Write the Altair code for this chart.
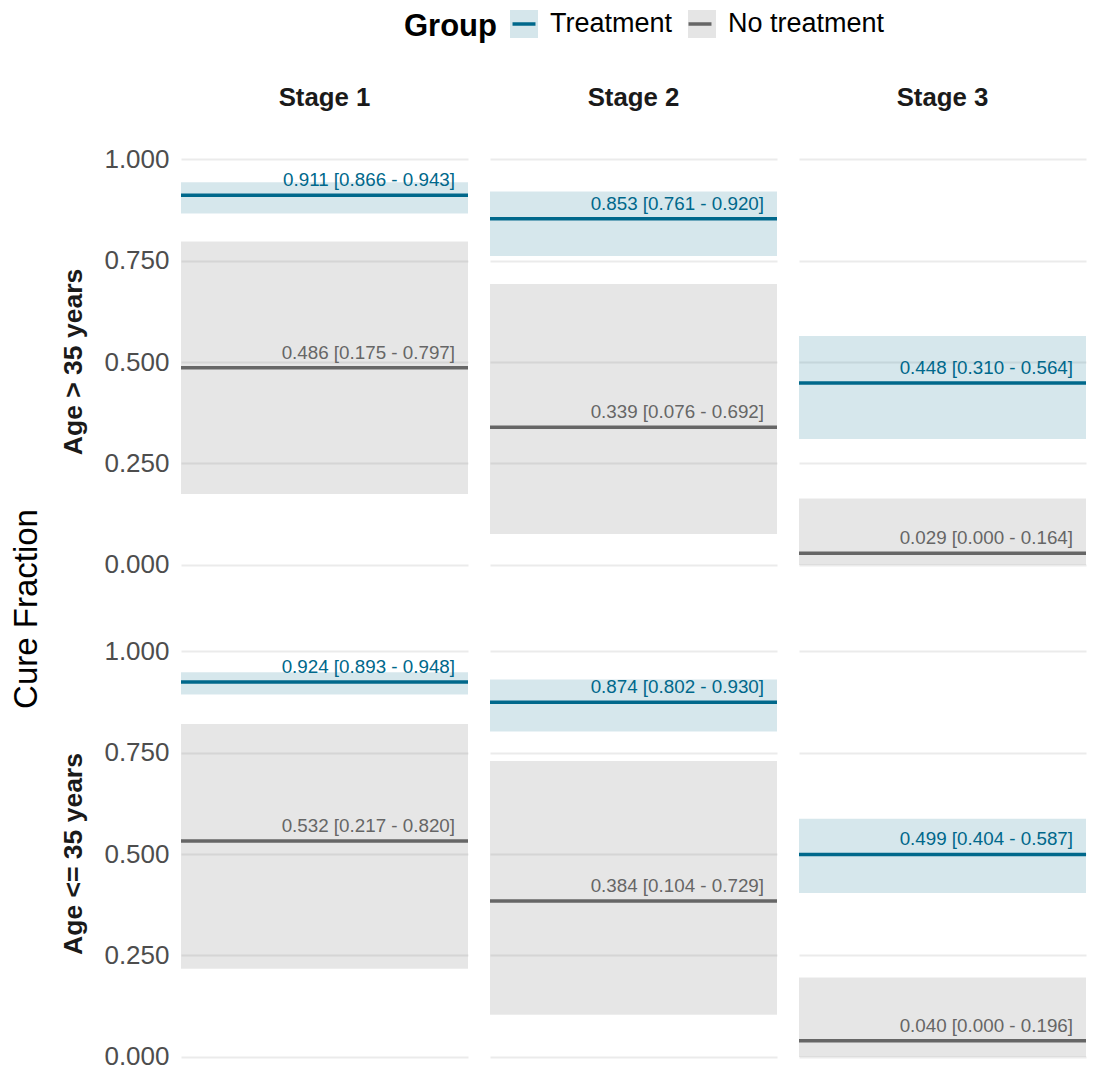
import altair as alt
import pandas as pd

stages = ["Stage 1", "Stage 2", "Stage 3"]
ages = ["Age > 35 years", "Age <= 35 years"]
groups = ["Treatment", "No treatment"]

old_treat_est = [0.911, 0.853, 0.448]
old_treat_lo = [0.866, 0.761, 0.310]
old_treat_hi = [0.943, 0.920, 0.564]
old_none_est = [0.486, 0.339, 0.029]
old_none_lo = [0.175, 0.076, 0.000]
old_none_hi = [0.797, 0.692, 0.164]

young_treat_est = [0.924, 0.874, 0.499]
young_treat_lo = [0.893, 0.802, 0.404]
young_treat_hi = [0.948, 0.930, 0.587]
young_none_est = [0.532, 0.384, 0.040]
young_none_lo = [0.217, 0.104, 0.000]
young_none_hi = [0.820, 0.729, 0.196]

y_ticks = [0.0, 0.25, 0.5, 0.75, 1.0]
group_colors = ["#00688B", "#666666"]

rows = []
series = [
    (ages[0], groups[0], old_treat_est, old_treat_lo, old_treat_hi),
    (ages[0], groups[1], old_none_est, old_none_lo, old_none_hi),
    (ages[1], groups[0], young_treat_est, young_treat_lo, young_treat_hi),
    (ages[1], groups[1], young_none_est, young_none_lo, young_none_hi),
]
for age, grp, est, lo, hi in series:
    for i, st in enumerate(stages):
        rows.append({
            "age": age, "stage": st, "group": grp, "group2": grp,
            "est": est[i], "lo": lo[i], "hi": hi[i],
            "label": f"{est[i]:.3f} [{lo[i]:.3f} - {hi[i]:.3f}]",
        })
df = pd.DataFrame(rows)

FONT = "Liberation Sans"
yscale = alt.Scale(domain=[-0.01, 1.01], nice=False, zero=False)
yaxis = alt.Axis(values=y_ticks, format=".3f", title=None, ticks=False, domain=False,
                 labelFontSize=26, labelColor="#4D4D4D", labelPadding=10, labelFont=FONT,
                 gridColor="#EBEBEB", gridWidth=2)


def leg(text_color, x, **kw):
    return dict(orient="none", legendX=x, legendY=-147, direction="horizontal",
                titleOrient="left", titleFontSize=31, titleFontWeight="bold", titleFont=FONT,
                titleColor="black", labelFontSize=27, labelFont=FONT, labelColor=text_color,
                symbolSize=784, symbolStrokeWidth=3.5, labelOffset=10, columnPadding=8,
                titlePadding=11, titleBaseline="middle", titleAnchor="middle", **kw)


base = alt.Chart(df)

rect = base.mark_rect(opacity=0.16).encode(
    x=alt.value(0), x2=alt.value("width"),
    y=alt.Y("lo:Q", scale=yscale, axis=yaxis), y2="hi:Q",
    fill=alt.Fill("group:N", scale=alt.Scale(domain=groups, range=group_colors),
                  legend=alt.Legend(title="Group",
                                    **leg("black", 223, symbolType="square",
                                          symbolStrokeColor="transparent"))),
)
rule = base.mark_rule(strokeWidth=3.5).encode(
    x=alt.value(0), x2=alt.value("width"),
    y=alt.Y("est:Q", scale=yscale, axis=yaxis),
    stroke=alt.Stroke("group2:N", sort=groups, scale=alt.Scale(range=group_colors),
                      legend=alt.Legend(title=None,
                                        **leg("transparent", 327, symbolType="M-0.82,0H0.82",
                                              symbolFillColor="transparent"))),
)
text = base.mark_text(align="right", baseline="bottom", dx=-13, dy=-5, fontSize=18.8,
                      font=FONT).encode(
    x=alt.value("width"),
    y=alt.Y("est:Q", scale=yscale, axis=yaxis),
    text="label:N",
    color=alt.Color("group:N", scale=alt.Scale(domain=groups, range=group_colors), legend=None),
)

layered = alt.layer(rect, rule, text).properties(width=287, height=414)

chart = layered.facet(
    row=alt.Row("age:N", sort=ages,
                header=alt.Header(title=None, labelOrient="left", labelAngle=-90,
                                  labelFontSize=26.5, labelFontWeight="bold", labelFont=FONT,
                                  labelColor="#1A1A1A", labelPadding=3)),
    column=alt.Column("stage:N", sort=stages,
                      header=alt.Header(title=None, labelFontSize=25.8, labelFontWeight="bold",
                                        labelFont=FONT, labelColor="#1A1A1A",
                                        labelPadding=43.5)),
    spacing={"row": 78, "column": 18},
).properties(
    title=alt.Title("Cure Fraction", orient="left", anchor="middle", fontSize=33,
                    fontWeight="normal", font=FONT, color="black", offset=17, dx=-70),
    padding={"left": 3, "top": 0, "right": 0, "bottom": 0},
    background="white",
).configure_view(stroke="transparent", strokeWidth=0)

chart.save("out.html", embed_options={"renderer": "svg", "actions": False})
